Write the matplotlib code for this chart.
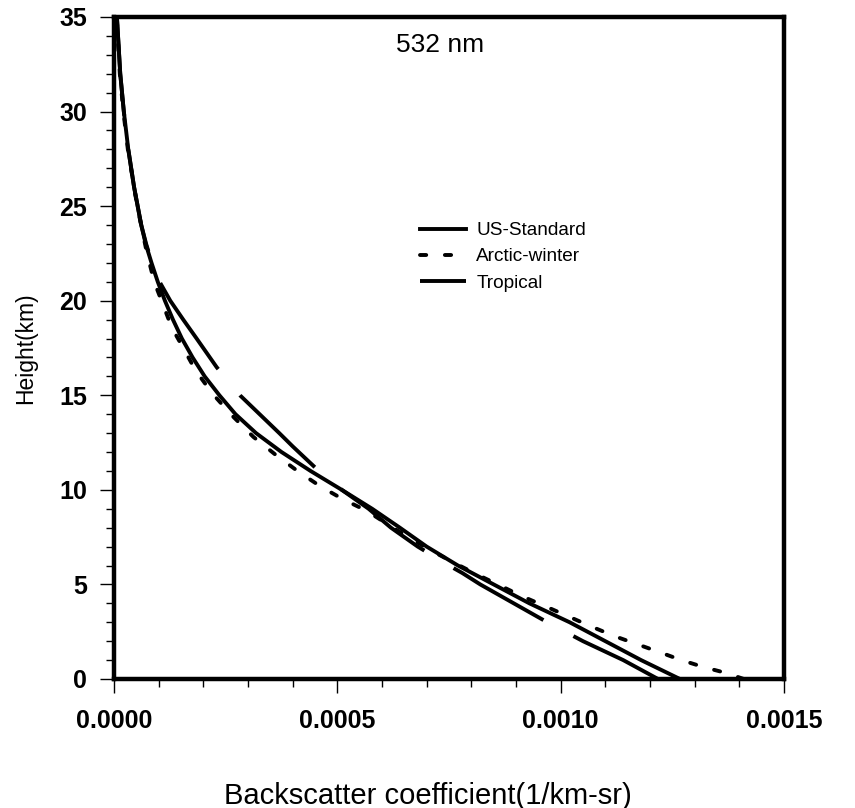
import matplotlib
matplotlib.use("Agg")
import matplotlib.pyplot as plt
from matplotlib.ticker import MultipleLocator, FormatStrFormatter

# Heights (km) and backscatter coefficients (1/km-sr)
us_h = [0, 1, 2, 3, 4, 5, 6, 7, 8, 9, 10, 11, 12, 13, 14, 15, 16, 17, 18, 19, 20,
        21, 22, 23, 24, 26, 28, 30, 32, 35]
us_b = [0.001267, 0.00118, 0.00110, 0.00102, 0.00093, 0.00085, 0.00077, 0.000700,
        0.000640, 0.000578, 0.000510, 0.000440, 0.000375, 0.000318, 0.000272,
        0.000236, 0.000203, 0.000176, 0.000152, 0.000132, 0.000114, 0.000098,
        0.000084, 0.000071, 0.000061, 0.000045, 0.000032, 0.000022, 0.000014,
        0.0000065]

arc_h = [0, 0.32, 0.63, 1.0, 1.43, 1.85, 2.27, 2.76, 3.28, 3.8, 4.35, 4.92, 5.5,
         6.1, 6.73, 7.8, 8.9, 9.5, 10.17, 10.96, 11.85, 12.8, 13.96, 15.1, 16.3,
         17.5, 18.6, 19.9, 21.0, 22.6, 25, 28, 30, 32, 35]
arc_b = [0.00141, 0.00137, 0.00132, 0.00127, 0.00122, 0.00117, 0.00112, 0.00107,
         0.00102, 0.00097, 0.000916, 0.000866, 0.000815, 0.000765, 0.000715,
         0.000638, 0.000565, 0.000513, 0.000463, 0.000413, 0.000362, 0.000312,
         0.000263, 0.000220, 0.000183, 0.000155, 0.000129, 0.000108, 0.000090,
         0.000073, 0.000052, 0.000031, 0.000021, 0.000013, 0.000006]

tro_h = [0, 1, 2, 3, 4, 5, 5.6, 6, 7, 8, 9, 10, 10.9, 12.3, 13, 14, 15, 16.48, 18,
         19, 20, 21, 22, 23, 24, 26, 28, 30, 32, 35]
tro_b = [0.001218, 0.00114, 0.00105, 0.00097, 0.000895, 0.00082, 0.00078, 0.00075,
         0.00068, 0.00062, 0.00057, 0.00051, 0.000463, 0.000400, 0.000370,
         0.000326, 0.000282, 0.000230, 0.000185, 0.000155, 0.000126, 0.000102,
         0.000085, 0.000072, 0.000061, 0.000045, 0.000032, 0.000022, 0.000014,
         0.0000065]

series_labels = ["US-Standard", "Arctic-winter", "Tropical"]
x_ticks = [0.0, 0.0005, 0.0010, 0.0015]
y_ticks = [0, 5, 10, 15, 20, 25, 30, 35]

plt.rcParams['font.family'] = ['Liberation Sans', 'DejaVu Sans']

fig = plt.figure(figsize=(8.55, 8.08), dpi=100)
ax = fig.add_axes([114/855, 1 - 679/808, (784-114)/855, (679-17)/808])

lw = 2.8
ax.plot(us_b, us_h, color='black', lw=lw, label=series_labels[0])
ax.plot(arc_b, arc_h, color='black', lw=lw, linestyle=(0, (1.6, 4.8)),
        dash_capstyle='round', label=series_labels[1])
ax.plot(tro_b, tro_h, color='black', lw=lw, linestyle=(2.3, (26.7, 8.75)),
        label=series_labels[2])

ax.set_xlim(0, 0.0015)
ax.set_ylim(0, 35)
ax.set_xticks(x_ticks)
ax.set_yticks(y_ticks)
ax.xaxis.set_minor_locator(MultipleLocator(0.0001))
ax.yaxis.set_minor_locator(MultipleLocator(1))
ax.xaxis.set_major_formatter(FormatStrFormatter('%.4f'))
ax.tick_params(which='major', direction='out', length=10.3, width=1.0,
               labelsize=18)
ax.tick_params(which='minor', direction='out', length=5.5, width=1.0)
ax.tick_params(axis='x', which='major', pad=11)
ax.tick_params(axis='y', which='major', pad=9)
for lab in ax.get_xticklabels() + ax.get_yticklabels():
    lab.set_fontweight('bold')
for sp in ax.spines.values():
    sp.set_linewidth(3.2)

fig.text(0.5, 4.5/808, 'Backscatter coefficient(1/km-sr)', fontsize=21,
         ha='center', va='baseline')
ax.set_ylabel('Height(km)', fontsize=16.5, labelpad=16)

ax.text(0.487, 0.958, '532 nm', transform=ax.transAxes, fontsize=19,
        ha='center', va='center')

leg = ax.legend(loc='upper left', bbox_to_anchor=(0.446, 0.702), frameon=False,
                fontsize=13.7, handlelength=2.4, handletextpad=0.53,
                labelspacing=0.47, borderaxespad=0)

fig.savefig('out.png', dpi=100)
